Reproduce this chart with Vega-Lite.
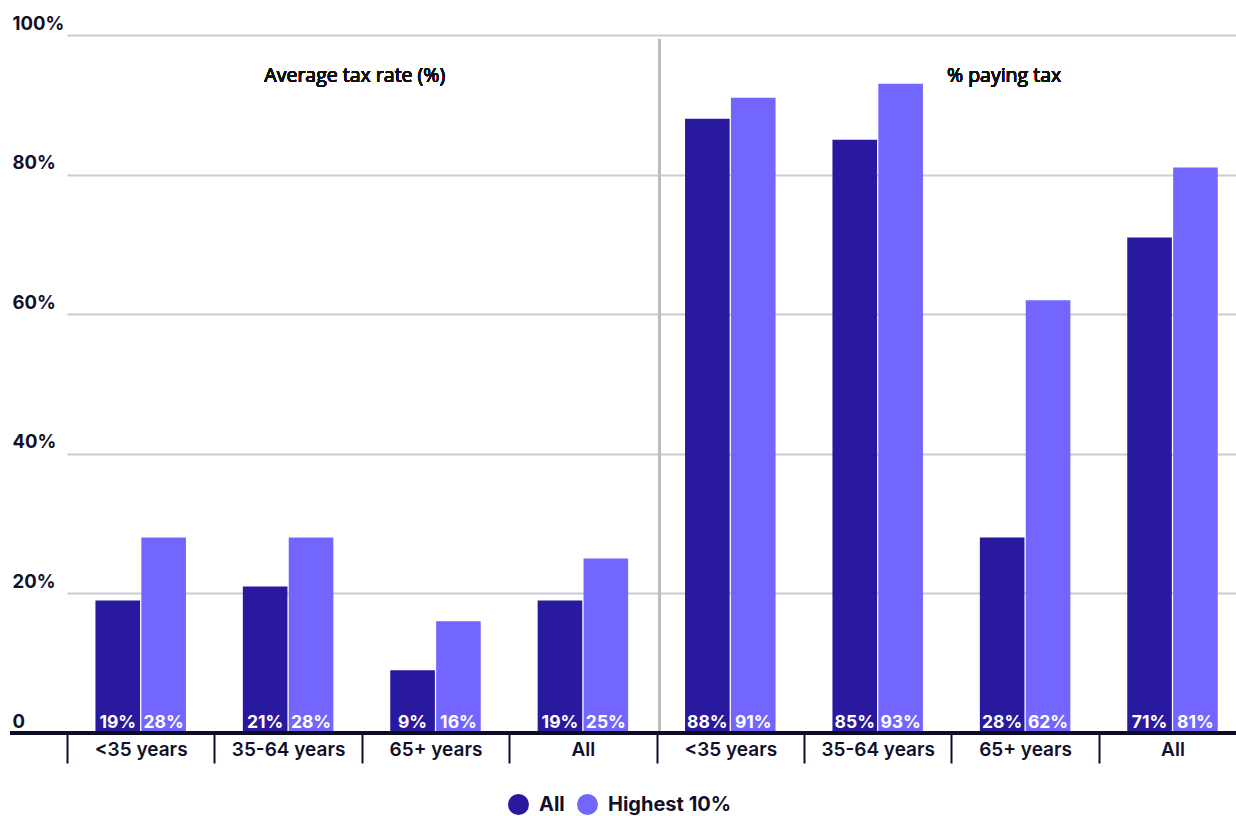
{
  "$schema": "https://vega.github.io/schema/vega-lite/v6.json",
  "autosize": "none",
  "width": 1226,
  "height": 698,
  "padding": {"left": 10, "top": 35, "right": 0, "bottom": 83},
  "background": "white",
  "config": {
    "view": {"stroke": null},
    "font": "Inter",
    "text": {"font": "Inter"}
  },
  "data": {
    "values": [
      {"key": "A|<35 years", "series": "All", "value": 19, "label": "19%"},
      {"key": "A|<35 years", "series": "Highest 10%", "value": 28, "label": "28%"},
      {"key": "B|35-64 years", "series": "All", "value": 21, "label": "21%"},
      {"key": "B|35-64 years", "series": "Highest 10%", "value": 28, "label": "28%"},
      {"key": "C|65+ years", "series": "All", "value": 9, "label": "9%"},
      {"key": "C|65+ years", "series": "Highest 10%", "value": 16, "label": "16%"},
      {"key": "D|All", "series": "All", "value": 19, "label": "19%"},
      {"key": "D|All", "series": "Highest 10%", "value": 25, "label": "25%"},
      {"key": "E|<35 years", "series": "All", "value": 88, "label": "88%"},
      {"key": "E|<35 years", "series": "Highest 10%", "value": 91, "label": "91%"},
      {"key": "F|35-64 years", "series": "All", "value": 85, "label": "85%"},
      {"key": "F|35-64 years", "series": "Highest 10%", "value": 93, "label": "93%"},
      {"key": "G|65+ years", "series": "All", "value": 28, "label": "28%"},
      {"key": "G|65+ years", "series": "Highest 10%", "value": 62, "label": "62%"},
      {"key": "H|All", "series": "All", "value": 71, "label": "71%"},
      {"key": "H|All", "series": "Highest 10%", "value": 81, "label": "81%"}
    ]
  },
  "encoding": {
    "x": {
      "field": "key",
      "type": "nominal",
      "sort": null,
      "scale": {"range": [57, 1236.2], "paddingInner": 0, "paddingOuter": 0},
      "axis": {
        "title": null,
        "orient": "bottom",
        "domain": false,
        "grid": false,
        "ticks": true,
        "tickBand": "extent",
        "tickSize": 30,
        "tickWidth": 2,
        "tickColor": "#0d0d26",
        "labelExpr": "split(datum.label, '|')[1]",
        "labelAngle": 0,
        "labelFont": "Inter",
        "labelFontSize": 19,
        "labelFontWeight": 600,
        "labelColor": "#10102a",
        "labelBaseline": "alphabetic",
        "labelPadding": -8
      }
    }
  },
  "layer": [
    {
      "mark": {"type": "bar"},
      "encoding": {
        "xOffset": {"field": "series", "type": "nominal", "scale": {"paddingInner": 0.028, "paddingOuter": 0.62}},
        "y": {
          "field": "value",
          "type": "quantitative",
          "scale": {"domain": [0, 100], "nice": false},
          "axis": {
            "title": null,
            "orient": "left",
            "values": [0, 20, 40, 60, 80, 100],
            "domain": false,
            "ticks": false,
            "tickSize": 0,
            "grid": true,
            "gridColor": "#cbcbd3",
            "gridWidth": 2,
            "labelExpr": "datum.value === 0 ? '0' : datum.value + '%'",
            "labelAlign": "left",
            "labelBaseline": "alphabetic",
            "labelPadding": -2,
            "labelOffset": -6,
            "labelFont": "Inter",
            "labelFontSize": 18.5,
            "labelFontWeight": 700,
            "labelColor": "#10102a"
          }
        },
        "color": {
          "field": "series",
          "type": "nominal",
          "scale": {"domain": ["All", "Highest 10%"], "range": ["#28199e", "#7366ff"]},
          "legend": {
            "title": null,
            "orient": "none",
            "direction": "horizontal",
            "legendX": 498,
            "legendY": 759,
            "symbolType": "circle",
            "symbolSize": 440,
            "symbolStrokeWidth": 0,
            "labelFont": "Inter",
            "labelFontSize": 20,
            "labelFontWeight": 700,
            "labelColor": "#10102a",
            "labelOffset": 10,
            "columnPadding": 12
          }
        }
      }
    },
    {
      "mark": {"type": "text", "color": "white", "font": "Inter", "fontSize": 17.5, "fontWeight": 700, "baseline": "alphabetic", "dy": -5},
      "encoding": {
        "xOffset": {"field": "series", "type": "nominal"},
        "y": {"datum": 0},
        "text": {"field": "label", "type": "nominal"}
      }
    },
    {
      "mark": {"type": "rule", "color": "#bdbdbd", "strokeWidth": 2, "xOffset": 3},
      "encoding": {
        "x": {"datum": "E|<35 years", "bandPosition": 0},
        "y": {"datum": 99.4},
        "y2": {"datum": 0.4}
      }
    },
    {
      "mark": {"type": "rule", "color": "#0d0d26", "strokeWidth": 3},
      "encoding": {"x": null, "y": {"datum": 0}}
    },
    {
      "mark": {"type": "text", "text": "Average tax rate (%)", "font": "Open Sans", "fontSize": 19.5, "fontWeight": 500, "color": "#111111", "baseline": "alphabetic", "align": "center", "dx": -7},
      "encoding": {
        "x": {"datum": "C|65+ years", "bandPosition": 0},
        "y": {"datum": 93.3}
      }
    },
    {
      "mark": {"type": "text", "text": "% paying tax", "font": "Open Sans", "fontSize": 19.5, "fontWeight": 500, "color": "#111111", "baseline": "alphabetic", "align": "center", "dx": -21},
      "encoding": {
        "x": {"datum": "G|65+ years"},
        "y": {"datum": 93.3}
      }
    }
  ]
}
